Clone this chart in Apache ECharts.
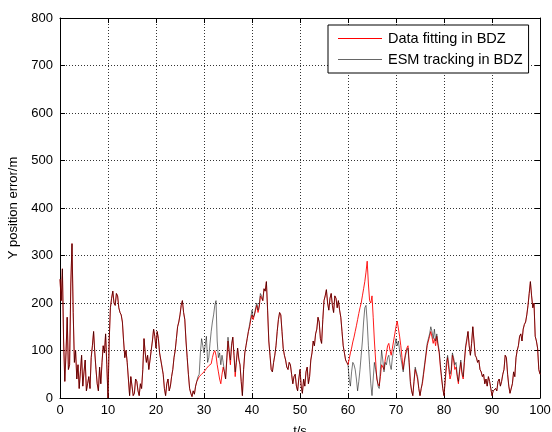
<!DOCTYPE html>
<html>
<head>
<meta charset="utf-8">
<script src="https://cdn.jsdelivr.net/npm/echarts@6/dist/echarts.min.js"></script>
<style>
  html, body { margin: 0; padding: 0; background: #fff; }
  #chart { width: 552px; height: 432px; }
</style>
</head>
<body>
<div id="chart"></div>
<script>
// Sampling step of both records, in seconds
const sampleStep = 0.25;

// Y position error (m) of the data-fitting solution, t = 0 ... 100 s (20 samples per row = 5 s)
const fittingError = [
  250, 205, 272, 120, 35, 95, 170, 60, 70, 240, 325, 180, 75, 100, 40, 70, 20, 55, 90, 25,
  55, 80, 15, 30, 45, 20, 85, 110, 140, 95, 60, 30, 15, 65, 30, 75, 110, 95, 135, 70,
  0, 120, 190, 210, 225, 200, 195, 220, 215, 190, 180, 175, 160, 120, 85, 100, 75, 40, 5, 45,
  25, 5, 10, 40, 35, 15, 5, 30, 20, 60, 125, 95, 75, 90, 60, 80, 100, 120, 145, 130,
  105, 140, 125, 95, 80, 65, 50, 20, 5, 30, 40, 15, 25, 45, 60, 85, 100, 125, 150, 160,
  175, 195, 205, 180, 165, 120, 85, 50, 20, 10, 3, 15, 8, 25, 35, 40, 45, 48, 50, 52,
  55, 58, 62, 65, 68, 70, 72, 85, 95, 100, 90, 70, 55, 40, 30, 50, 65, 55, 40, 80,
  120, 95, 70, 110, 128, 90, 45, 75, 105, 80, 70, 35, 5, 60, 95, 110, 125, 140, 150, 165,
  175, 165, 165, 185, 195, 180, 190, 215, 215, 205, 230, 225, 245, 185, 120, 90, 60, 55, 75, 90,
  110, 140, 165, 180, 175, 140, 105, 90, 80, 65, 60, 75, 70, 50, 30, 45, 50, 25, 15, 40,
  60, 25, 10, 40, 25, 55, 65, 30, 45, 80, 95, 120, 110, 135, 145, 170, 160, 125, 115, 165,
  205, 215, 228, 200, 185, 210, 220, 195, 180, 215, 210, 190, 205, 185, 170, 140, 110, 95, 80, 75,
  70, 82, 95, 105, 118, 128, 140, 152, 165, 178, 190, 200, 215, 230, 245, 265, 288, 240, 205, 200,
  215, 170, 120, 80, 40, 30, 25, 45, 70, 65, 60, 80, 95, 110, 115, 100, 90, 105, 120, 135,
  150, 162, 160, 130, 110, 85, 60, 80, 95, 105, 110, 75, 35, 15, 5, 35, 60, 50, 40, 20,
  5, 20, 30, 50, 70, 90, 110, 120, 130, 140, 128, 115, 125, 110, 130, 110, 95, 65, 40, 20,
  5, 35, 65, 85, 60, 40, 50, 90, 80, 60, 65, 45, 30, 55, 75, 50, 40, 75, 105, 120,
  140, 110, 90, 115, 150, 120, 90, 85, 75, 80, 60, 55, 45, 50, 30, 40, 25, 45, 35, 20,
  5, 15, 12, 20, 15, 35, 40, 25, 35, 50, 60, 90, 85, 50, 25, 10, 10, 30, 55, 45,
  85, 100, 110, 130, 135, 120, 145, 155, 160, 175, 195, 220, 245, 215, 190, 200, 130, 120, 105, 60,
  50
];

// Y position error (m) of the ESM tracking solution, same sampling
const trackingError = [
  250, 205, 272, 120, 35, 95, 170, 60, 70, 240, 325, 180, 75, 100, 40, 70, 20, 55, 90, 25,
  55, 80, 15, 30, 45, 20, 85, 110, 140, 95, 60, 30, 15, 65, 30, 75, 110, 95, 135, 70,
  0, 120, 190, 210, 225, 200, 195, 220, 215, 190, 180, 175, 160, 120, 85, 100, 75, 40, 5, 45,
  25, 5, 10, 40, 35, 15, 5, 30, 20, 60, 125, 95, 75, 90, 60, 80, 100, 120, 145, 130,
  105, 140, 125, 95, 80, 65, 50, 20, 5, 30, 40, 15, 25, 45, 60, 85, 100, 125, 150, 160,
  175, 195, 205, 180, 165, 120, 85, 50, 20, 10, 3, 15, 8, 25, 35, 45, 50, 95, 125, 110,
  95, 110, 130, 75, 85, 115, 140, 160, 175, 195, 205, 120, 85, 95, 70, 90, 75, 55, 40, 85,
  128, 100, 80, 115, 128, 90, 55, 80, 105, 85, 70, 35, 5, 60, 95, 110, 125, 140, 155, 170,
  185, 170, 175, 190, 200, 185, 195, 220, 215, 205, 230, 225, 245, 185, 120, 90, 60, 55, 75, 90,
  110, 140, 165, 180, 175, 140, 105, 90, 80, 65, 60, 75, 70, 50, 30, 45, 50, 25, 15, 40,
  60, 25, 10, 40, 25, 55, 65, 30, 45, 80, 95, 120, 110, 135, 145, 170, 160, 125, 115, 165,
  205, 215, 228, 200, 185, 210, 220, 195, 180, 215, 210, 190, 205, 185, 170, 140, 110, 95, 80, 75,
  70, 40, 25, 55, 75, 70, 60, 40, 15, 35, 60, 90, 120, 160, 190, 195, 160, 110, 70, 30,
  5, 40, 75, 60, 45, 25, 20, 60, 100, 80, 55, 75, 70, 85, 90, 70, 60, 85, 100, 110,
  125, 110, 120, 100, 85, 70, 55, 75, 90, 100, 105, 70, 30, 15, 5, 35, 65, 55, 45, 20,
  5, 20, 35, 55, 75, 95, 115, 125, 135, 150, 140, 125, 145, 120, 135, 115, 100, 70, 45, 20,
  5, 40, 75, 90, 70, 50, 60, 95, 85, 70, 75, 50, 35, 60, 80, 55, 45, 80, 110, 125,
  140, 110, 90, 115, 150, 120, 90, 85, 75, 80, 60, 55, 45, 50, 30, 40, 25, 45, 35, 20,
  5, 15, 12, 20, 15, 35, 40, 25, 35, 50, 60, 90, 85, 50, 25, 10, 10, 30, 55, 45,
  85, 100, 110, 130, 135, 120, 145, 155, 160, 175, 195, 220, 245, 215, 190, 200, 130, 120, 105, 60,
  50
];

const seriesNames = ['Data fitting in BDZ', 'ESM tracking in BDZ'];
const xTicks = [0, 10, 20, 30, 40, 50, 60, 70, 80, 90, 100];
const yTicks = [0, 100, 200, 300, 400, 500, 600, 700, 800];

const toPairs = arr => arr.map((v, i) => [i * sampleStep, v]);

const FONT = 'Liberation Sans, Arial, Helvetica, sans-serif';

const gridLine = { show: true, lineStyle: { color: '#333', type: [1, 2], width: 1 } };
const frameLine = { show: true, onZero: false, lineStyle: { color: '#000', width: 1 } };
const tickIn = { show: true, inside: true, length: 5, lineStyle: { color: '#000' } };

const chart = echarts.init(document.getElementById('chart'), null, { renderer: 'canvas' });
chart.setOption({
  animation: false,
  backgroundColor: '#fff',
  grid: { left: 60, right: 12, top: 18, bottom: 34, containLabel: false, outerBoundsMode: 'none' },
  xAxis: [
    {
      type: 'value', min: xTicks[0], max: xTicks[xTicks.length - 1], interval: 10,
      name: 't/s', nameLocation: 'middle', nameGap: 27,
      nameTextStyle: { fontFamily: FONT, fontSize: 13, color: '#000' },
      axisLine: frameLine, axisTick: tickIn,
      axisLabel: { fontFamily: FONT, fontSize: 13, color: '#000', margin: 6 },
      splitLine: gridLine
    },
    {
      type: 'value', position: 'top', min: xTicks[0], max: xTicks[xTicks.length - 1], interval: 10,
      axisLine: frameLine, axisTick: tickIn, axisLabel: { show: false }, splitLine: { show: false }
    }
  ],
  yAxis: [
    {
      type: 'value', min: yTicks[0], max: yTicks[yTicks.length - 1], interval: 100,
      name: 'Y position error/m', nameLocation: 'middle', nameGap: 40,
      nameTextStyle: { fontFamily: FONT, fontSize: 13, color: '#000' },
      axisLine: frameLine, axisTick: tickIn,
      axisLabel: { fontFamily: FONT, fontSize: 13, color: '#000', margin: 7 },
      splitLine: gridLine
    },
    {
      type: 'value', position: 'right', min: yTicks[0], max: yTicks[yTicks.length - 1], interval: 100,
      axisLine: frameLine, axisTick: tickIn, axisLabel: { show: false }, splitLine: { show: false }
    }
  ],
  legend: {
    orient: 'vertical',
    left: 328, top: 25,
    backgroundColor: '#fff',
    borderColor: '#000', borderWidth: 1, borderRadius: 0,
    padding: [6, 6, 6, 10],
    itemGap: 6,
    itemWidth: 44, itemHeight: 1,
    icon: 'rect',
    textStyle: { fontFamily: FONT, fontSize: 14.5, color: '#000', padding: [0, 0, 0, 1] },
    data: seriesNames
  },
  series: [
    {
      name: seriesNames[0], type: 'line', xAxisIndex: 0, yAxisIndex: 0,
      data: toPairs(fittingError), showSymbol: false, symbol: 'none',
      color: '#ff0000', lineStyle: { color: '#ff0000', width: 0.9 }
    },
    {
      name: seriesNames[1], type: 'line', xAxisIndex: 0, yAxisIndex: 0,
      data: toPairs(trackingError), showSymbol: false, symbol: 'none',
      color: 'rgba(0,0,0,0.6)', lineStyle: { color: 'rgba(0,0,0,0.6)', width: 0.9 }
    }
  ]
});
</script>
</body>
</html>
